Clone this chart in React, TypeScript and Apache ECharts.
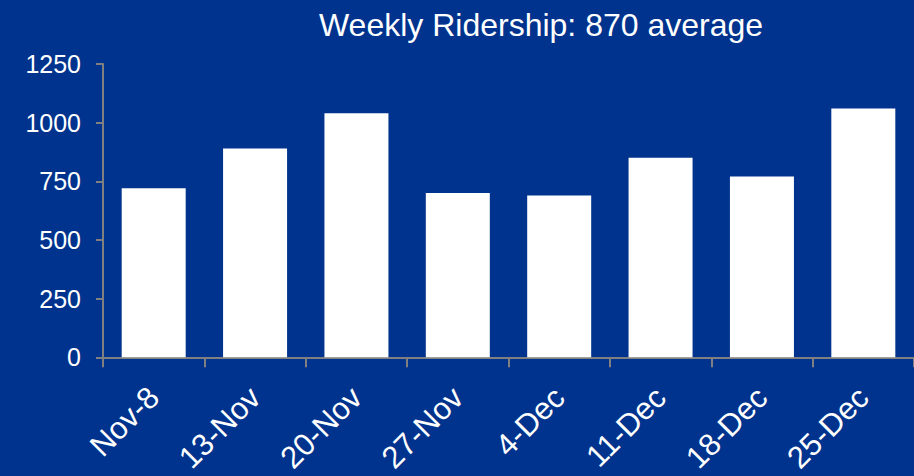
import React, { useEffect, useRef } from "react";
import * as echarts from "echarts";

const TITLE = "Weekly Ridership: 870 average";
const categories = ["Nov-8", "13-Nov", "20-Nov", "27-Nov", "4-Dec", "11-Dec", "18-Dec", "25-Dec"];
const ridership = [720, 890, 1040, 700, 690, 850, 770, 1060];
const yMin = 0;
const yMax = 1250;
const yStep = 250;

export default function App() {
  const ref = useRef<HTMLDivElement>(null);
  useEffect(() => {
    document.body.style.margin = "0";
    const chart = echarts.init(ref.current!, null, { renderer: "svg" });
    const font = "Liberation Sans, Arial, sans-serif";
    chart.setOption({
      animation: false,
      backgroundColor: "#00338D",
      title: {
        text: TITLE,
        left: 536,
        textAlign: "center",
        top: 4,
        textStyle: { color: "#ffffff", fontSize: 32, fontWeight: "normal", fontFamily: font },
      },
      grid: { left: 103, top: 64, width: 819, height: 294, containLabel: false },
      xAxis: {
        type: "category",
        data: categories,
        boundaryGap: true,
        axisLine: { show: true, lineStyle: { color: "#808080", width: 2 } },
        axisTick: { show: true, length: 10, lineStyle: { color: "#808080", width: 2 } },
        axisLabel: {
          color: "#ffffff",
          fontSize: 31,
          fontFamily: font,
          rotate: 45,
          margin: 35,
          interval: 0,
        },
      },
      yAxis: {
        type: "value",
        min: yMin,
        max: yMax,
        interval: yStep,
        splitLine: { show: false },
        axisLine: { show: true, lineStyle: { color: "#808080", width: 2 } },
        axisTick: { show: true, length: 7, lineStyle: { color: "#808080", width: 2 } },
        axisLabel: {
          color: "#ffffff",
          fontSize: 25,
          fontFamily: font,
          margin: 22,
          formatter: (v: number) => String(v),
        },
      },
      series: [
        {
          type: "bar",
          data: ridership,
          barWidth: 64,
          itemStyle: { color: "#ffffff" },
        },
      ],
    });
    return () => chart.dispose();
  }, []);
  return <div ref={ref} style={{ width: 914, height: 476 }} />;
}
